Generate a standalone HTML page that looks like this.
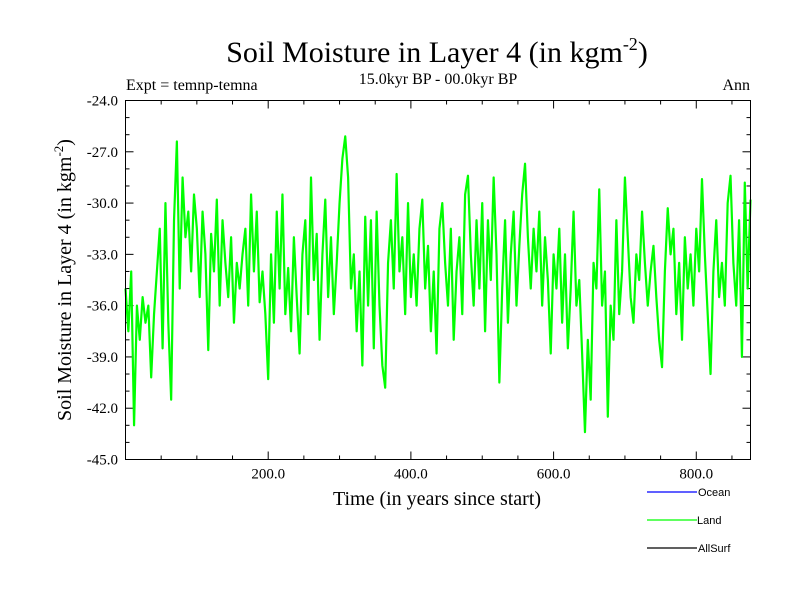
<!DOCTYPE html>
<html><head><meta charset="utf-8"><style>
html,body{margin:0;padding:0;background:#fff;}
svg{display:block;}
.serif{font-family:"Liberation Serif",serif;}
.sans{font-family:"Liberation Sans",sans-serif;}
</style></head><body>
<svg id="chart" width="800" height="600" xmlns="http://www.w3.org/2000/svg">
<text class="serif" x="437" y="62" font-size="30" text-anchor="middle">Soil Moisture in Layer 4 (in kgm<tspan dy="-12" font-size="18">-2</tspan><tspan dy="12">)</tspan></text>
<text class="serif" x="438" y="84" font-size="16" text-anchor="middle">15.0kyr BP - 00.0kyr BP</text>
<text class="serif" x="126" y="90" font-size="16">Expt = temnp-temna</text>
<text class="serif" x="750" y="90" font-size="16" text-anchor="end">Ann</text>
<text class="serif" x="437" y="505" font-size="20" text-anchor="middle">Time (in years since start)</text>
<text class="serif" transform="translate(71,280) rotate(-90)" font-size="20" text-anchor="middle">Soil Moisture in Layer 4 (in kgm<tspan dy="-8" font-size="13">-2</tspan><tspan dy="8">)</tspan></text>
<g id="ticks"></g>
<g id="series"></g>
<rect x="125.5" y="100.5" width="625" height="359" fill="none" stroke="#000" stroke-width="1"/>
<g>
<g><line x1="647" y1="492" x2="697" y2="492" stroke="#0000ff" stroke-width="1.2"/><text class="sans" x="698" y="496" font-size="11">Ocean</text></g>
<g><line x1="647" y1="520" x2="697" y2="520" stroke="#00ff00" stroke-width="1.2"/><text class="sans" x="697" y="524" font-size="11">Land</text></g>
<g><line x1="647" y1="548" x2="697" y2="548" stroke="#000" stroke-width="1.2"/><text class="sans" x="698" y="552" font-size="11">AllSurf</text></g>
</g>
</svg>
<script>
const yearStep = 4;
const landValues = [
-35,-37.5,-34,-43,-36,-38,-35.5,-37,-36,-40.2,-36.5,
-34,-31.5,-38.5,-30,-37,-41.5,-31,-26.4,-35,-28.5,
-32,-30.5,-34,-29.5,-31.5,-35.5,-30.5,-33,-38.6,-31.8,
-34,-29.8,-36,-31,-33.5,-35.5,-32,-37,-33.5,-35,
-33,-31.5,-36,-29.5,-34,-30.5,-35.8,-34,-36.5,-40.3,
-33,-37,-30.5,-35,-29.5,-36.5,-33.8,-37.5,-32,-35.5,
-38.8,-33,-31,-36.5,-28.5,-34.5,-31.8,-38,-33,-29.8,
-35.5,-32,-36.5,-33.5,-30,-27.4,-26.1,-28.5,-35,-33,
-37.5,-34,-39.5,-30.8,-36,-31,-38.5,-30.5,-36,-39.5,
-40.8,-33.5,-31,-35,-28.3,-34,-32,-36.5,-30,-35.5,
-33,-36,-31.5,-29.8,-35,-32.5,-37.5,-34,-38.8,-31.5,
-30,-33.5,-36,-31.5,-38,-34,-32,-36.5,-29.5,-28.4,
-33,-36,-31,-35,-30,-37.5,-31,-34.5,-28.5,-33,
-40.5,-35,-31,-37,-33,-30.5,-36,-32.5,-29.5,-27.7,
-32,-35,-31.5,-34,-30.5,-36,-32,-34.5,-38.8,-33,
-35,-31.5,-37,-33,-38.5,-35,-30.5,-36,-34.5,-38.8,
-43.4,-38,-41.5,-33.5,-35,-29.2,-36,-34,-42.5,-36,
-38,-31,-36.5,-34,-28.5,-32,-35.5,-37,-33,-34.5,
-30.5,-33.5,-36,-34,-32.5,-35.5,-38,-39.6,-34,-30.3,
-33,-31.5,-36.5,-33.5,-38,-32,-35,-33,-36,-31.5,
-34,-28.6,-33,-36.5,-40,-34,-31,-35.5,-33.5,-36,
-30,-28.4,-33.5,-36,-31,-39,-28.8,-35,-29.8
];
const yTickValues = [-24,-27,-30,-33,-36,-39,-42,-45];
const yTickLabels = ["-24.0","-27.0","-30.0","-33.0","-36.0","-39.0","-42.0","-45.0"];
const xTickValues = [200,400,600,800];
const xTickLabels = ["200.0","400.0","600.0","800.0"];

const X0=125.5, X1=750.5, Y0=100.5, Y1=459.5;
const xMin=0, xMax=876, yMin=-45, yMax=-24;
function xs(v){return X0+(v-xMin)/(xMax-xMin)*(X1-X0);}
function ys(v){return Y1-(v-yMin)/(yMax-yMin)*(Y1-Y0);}
const NS="http://www.w3.org/2000/svg";
const tg=document.getElementById('ticks');
function ln(x1,y1,x2,y2){const l=document.createElementNS(NS,'line');l.setAttribute('x1',x1);l.setAttribute('y1',y1);l.setAttribute('x2',x2);l.setAttribute('y2',y2);l.setAttribute('stroke','#000');l.setAttribute('stroke-width','1');


tg.appendChild(l);}
function tx(x,y,s,anchor,name){const t=document.createElementNS(NS,'text');t.setAttribute('x',x);t.setAttribute('y',y);t.setAttribute('text-anchor',anchor);t.setAttribute('font-size','15');t.setAttribute('class','serif');t.textContent=s;


tg.appendChild(t);}
for(let v=yMin; v<=yMax; v+=1){const y=ys(v);const major=yTickValues.includes(v);const L=major?8:4;ln(X0,y,X0+L,y);ln(X1,y,X1-L,y);}
yTickValues.forEach((v,i)=>tx(118,ys(v)+5,yTickLabels[i],'end','y-tick-label'));
for(let v=50; v<xMax; v+=50){const x=xs(v);const major=xTickValues.includes(v);const L=major?8:4;ln(x,Y0,x,Y0+L);ln(x,Y1,x,Y1-L);}
xTickValues.forEach((v,i)=>tx(xs(v),Y1+19,xTickLabels[i],'middle','x-tick-label'));
const sg=document.getElementById('series');
const p=document.createElementNS(NS,'polyline');
p.setAttribute('points',landValues.map((v,i)=>xs(i*yearStep).toFixed(2)+','+ys(v).toFixed(2)).join(' '));
p.setAttribute('fill','none');p.setAttribute('stroke','#00ff00');p.setAttribute('stroke-width','2.2');p.setAttribute('stroke-linejoin','round');


sg.appendChild(p);
</script>
</body></html>
